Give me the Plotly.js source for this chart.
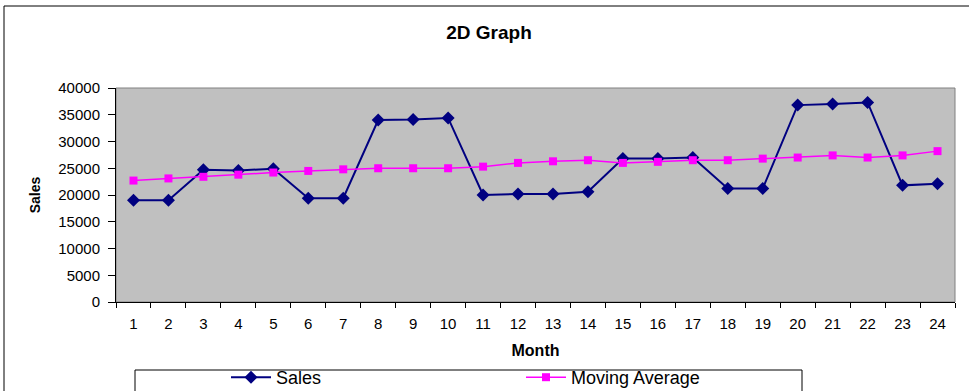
<!DOCTYPE html>
<html>
<head>
<meta charset="utf-8">
<script src="https://cdn.plot.ly/plotly-3.0.1.min.js"></script>
<style>html,body{margin:0;padding:0;background:#fff;}#chart{width:969px;height:391px;}</style>
</head>
<body>
<div id="chart"></div>
<script>
const months = ["1","2","3","4","5","6","7","8","9","10","11","12","13","14","15","16","17","18","19","20","21","22","23","24"];
const sales = [19000,19000,24700,24600,24900,19400,19400,34000,34100,34400,20000,20200,20200,20600,26800,26800,27000,21200,21200,36800,37000,37300,21800,22100];
const movingAverage = [22700,23100,23400,23800,24200,24500,24800,25000,25000,25000,25300,26000,26300,26500,26000,26200,26500,26500,26800,27000,27400,27000,27400,28200];
const yTicks = [0,5000,10000,15000,20000,25000,30000,35000,40000];

const W = 969, H = 391, L = 116, R = 14, T = 88, B = 89;
const pw = W - L - R, ph = H - T - B;
const px = x => (x - L) / pw;
const py = y => (H - B - y) / ph;
const FONT = "Liberation Sans, Arial, sans-serif";

const traces = [
  {x: months, y: sales, name: "Sales", type: "scatter", mode: "lines+markers",
   line: {color: "#000080", width: 2}, marker: {symbol: "diamond", size: 10, color: "#000080"}},
  {x: months, y: movingAverage, name: "Moving Average", type: "scatter", mode: "lines+markers",
   line: {color: "#FF00FF", width: 1.5}, marker: {symbol: "square", size: 8, color: "#FF00FF"}}
];

const layout = {
  width: W, height: H,
  margin: {l: L, r: R, t: T, b: B, pad: 0, autoexpand: false},
  paper_bgcolor: "#ffffff", plot_bgcolor: "#C0C0C0",
  font: {family: FONT, color: "#000", size: 15},
  title: {text: "<b>2D Graph</b>", font: {family: FONT, size: 19, color: "#000"},
          x: 489 / W, xref: "container", xanchor: "center", y: 1 - 32 / H, yref: "container", yanchor: "middle"},
  xaxis: {type: "category", range: [-0.5, 23.5], autorange: false, automargin: false,
          tickson: "boundaries", ticks: "outside", ticklen: 5, tickcolor: "#000",
          showline: true, linecolor: "#000", linewidth: 1, showgrid: false, zeroline: false,
          tickfont: {size: 15}, ticklabelstandoff: 8,
          title: {text: "<b>Month</b>", font: {size: 16}, standoff: 20}},
  yaxis: {range: [0, 40000], autorange: false, automargin: false,
          tickvals: yTicks, ticktext: yTicks.map(String), ticks: "outside", ticklen: 7, tickcolor: "#000",
          showline: true, linecolor: "#000", linewidth: 1, showgrid: false, zeroline: false,
          tickfont: {size: 15}, ticklabelstandoff: 5,
          title: {text: "<b>Sales</b>", font: {size: 14}, standoff: 14}},
  showlegend: true,
  legend: {orientation: "h", xref: "container", yref: "container", x: 226 / W, xanchor: "left",
           y: 1 - 359 / H, yanchor: "top",
           bgcolor: "rgba(0,0,0,0)", borderwidth: 0, font: {size: 18, family: FONT},
           entrywidth: 240, itemwidth: 40, tracegroupgap: 0},
  shapes: [
    {type: "rect", xref: "paper", yref: "paper", x0: 0, x1: 1, y0: 0, y1: 1,
     line: {color: "#808080", width: 1}, layer: "below"},
    {type: "rect", xref: "paper", yref: "paper", x0: px(4), x1: px(1000), y0: py(430), y1: py(6),
     line: {color: "#000", width: 1}, fillcolor: "rgba(0,0,0,0)"},
    {type: "rect", xref: "paper", yref: "paper", x0: px(135), x1: px(802), y0: py(430), y1: py(370),
     line: {color: "#000", width: 1}, fillcolor: "rgba(0,0,0,0)"}
  ]
};

Plotly.newPlot("chart", traces, layout, {displayModeBar: false, staticPlot: true});
</script>
</body>
</html>
